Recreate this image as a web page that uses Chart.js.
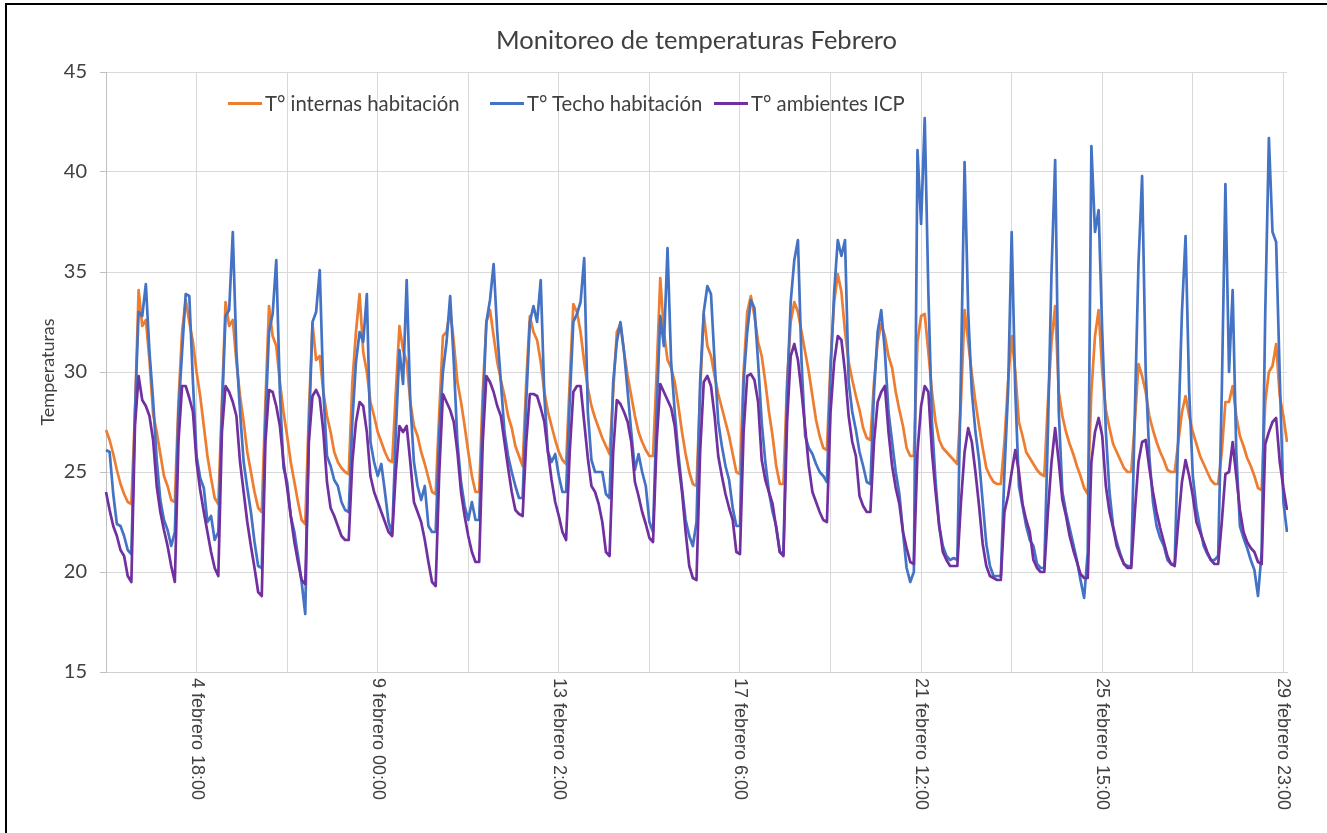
<!DOCTYPE html>
<html>
<head>
<meta charset="utf-8">
<script src="https://cdn.jsdelivr.net/npm/chart.js@4.4.1/dist/chart.umd.min.js"></script>
<style>
  html, body { margin: 0; padding: 0; background: #fff; }
  #wrap { position: relative; width: 1327px; height: 833px; }
  #frame { position: absolute; left: 5px; top: 3px; right: 0; bottom: 0; border-top: 2px solid #000; border-left: 2px solid #000; pointer-events: none; }
  .item { position: absolute; top: 91px; height: 24px; display: flex; align-items: center; white-space: nowrap; font: 20.3px Lato, sans-serif; color: #404040; }
  .item i { display: inline-block; width: 34px; height: 3px; margin-right: 3px; }
</style>
</head>
<body>
<div id="wrap">
  <canvas id="chartTemp" width="1327" height="833"></canvas>
  <div id="legend"></div>
  <div id="frame"></div>
</div>
<script>
// series names / colours (Excel palette)
const seriesNames = ['T° internas habitación', 'T° Techo habitación', 'T° ambientes ICP'];
const seriesColors = ['#ED7D31', '#4472C4', '#7030A0'];

// x labels shown on the axis and where they sit (point index)
const tickAt = [25, 75, 125, 175, 225, 275, 325];
const tickLabels = ['4 febrero 18:00', '9 febrero 00:00', '13 febrero 2:00', '17 febrero 6:00',
                    '21 febrero 12:00', '25 febrero 15:00', '29 febrero 23:00'];

// T° internas habitación (one row ~ one day)
const tempInterna = [
  27.1, 26.6, 25.9, 25.1, 24.4, 23.9, 23.5,
  23.4, 28.0, 34.1, 32.3, 32.6, 30.6, 27.9, 27.0, 25.9, 24.8, 24.3, 23.6,
  23.5, 28.5, 32.0, 33.6, 32.5, 31.5, 30.0, 28.8, 27.3, 25.8, 24.7, 23.7,
  23.4, 28.5, 33.5, 32.3, 32.6, 30.5, 28.8, 27.5, 26.0, 25.0, 24.0, 23.2,
  23.0, 28.5, 33.3, 31.8, 31.3, 29.5, 28.0, 26.8, 25.5, 24.5, 23.5, 22.6,
  22.4, 28.0, 32.4, 30.6, 30.8, 29.0, 27.8, 27.0, 26.0, 25.5, 25.2, 25.0,
  24.9, 29.5, 32.0, 33.9, 31.0, 30.0, 28.5, 27.8, 27.0, 26.5, 26.0, 25.6,
  25.5, 29.0, 32.3, 31.1, 30.5, 28.5, 27.3, 26.8, 26.0, 25.4, 24.7, 24.0,
  23.9, 28.0, 31.8, 32.0, 33.1, 31.5, 29.5, 28.5, 27.3, 26.0, 24.8, 24.0,
  24.0, 29.0, 32.5, 33.1, 31.8, 30.5, 29.6, 28.8, 27.8, 27.2, 26.3, 25.8,
  25.3, 29.5, 32.8, 32.0, 31.6, 30.5, 29.0, 28.0, 27.3, 26.6, 26.0, 25.6,
  25.4, 29.5, 33.4, 33.0, 32.0, 30.5, 29.2, 28.3, 27.7, 27.2, 26.7, 26.3,
  25.9, 29.0, 32.0, 32.4, 31.0, 29.8, 28.8, 27.8, 27.0, 26.5, 26.1, 25.8,
  25.8, 30.0, 34.7, 32.0, 30.6, 30.2, 29.5, 28.3, 27.0, 25.9, 25.0, 24.4,
  24.3, 29.0, 32.9, 31.3, 30.8, 29.8, 28.9, 28.2, 27.5, 26.8, 25.9, 25.0,
  24.9, 30.0, 33.0, 33.8, 32.8, 31.5, 30.8, 29.5, 28.0, 26.8, 25.3, 24.4,
  24.4, 29.5, 32.5, 33.5, 33.0, 32.0, 31.0, 30.0, 28.8, 27.6, 26.8, 26.2,
  26.1, 30.5, 33.5, 34.9, 34.0, 32.0, 30.5, 29.6, 28.8, 28.1, 27.2, 26.7,
  26.6, 29.5, 31.5, 32.4, 31.8, 30.8, 30.2, 29.0, 28.1, 27.3, 26.2, 25.8,
  25.8, 31.5, 32.8, 32.9, 31.0, 29.0, 27.5, 26.6, 26.2, 26.0, 25.8, 25.6,
  25.4, 28.5, 33.1, 31.5, 29.9, 28.5, 27.3, 26.2, 25.2, 24.8, 24.5, 24.4,
  24.4, 26.5, 29.5, 31.8, 30.0, 27.5, 26.8, 26.0, 25.7, 25.4, 25.1, 24.9,
  24.8, 28.5, 31.5, 33.3, 29.0, 27.8, 27.0, 26.4, 25.9, 25.3, 24.8, 24.2,
  23.9, 29.0, 31.8, 33.1, 30.0, 28.1, 27.2, 26.4, 26.0, 25.6, 25.2, 25.0,
  25.0, 27.5, 30.4, 29.8, 29.0, 27.8, 27.1, 26.5, 26.0, 25.6, 25.1, 25.0,
  25.0, 26.5, 28.0, 28.8, 27.8, 27.0, 26.4, 25.8, 25.4, 25.0, 24.6, 24.4,
  24.4, 26.0, 28.5, 28.5, 29.3, 27.8, 26.8, 26.3, 25.7, 25.3, 24.8, 24.2,
  24.1, 28.5, 30.0, 30.3, 31.4, 28.8, 27.8, 26.5
];

// T° Techo habitación
const tempTecho = [
  26.1, 26.0, 23.9, 22.4, 22.3, 21.8, 21.1,
  20.9, 28.0, 33.0, 32.8, 34.4, 31.0, 28.6, 25.6, 23.6, 22.6, 22.1, 21.3,
  22.0, 28.0, 31.0, 33.9, 33.8, 29.5, 25.8, 24.7, 24.2, 22.5, 22.8, 21.6,
  22.0, 28.0, 32.8, 33.1, 37.0, 31.0, 28.0, 25.5, 24.2, 23.0, 21.5, 20.3,
  20.2, 27.5, 32.0, 32.9, 35.6, 29.0, 25.2, 24.5, 22.8, 22.0, 20.8, 19.5,
  17.9, 27.0, 32.5, 33.0, 35.1, 29.0, 25.8, 25.3, 24.6, 24.3, 23.5, 23.1,
  23.0, 27.5, 30.5, 32.0, 31.5, 33.9, 26.5, 25.5, 24.8, 25.4, 24.0, 22.5,
  21.9, 27.0, 31.1, 29.4, 34.6, 28.5, 25.5, 24.3, 23.6, 24.3, 22.3, 22.0,
  22.0, 27.0, 30.0, 31.5, 33.8, 30.5, 26.5, 24.5, 23.3, 22.6, 23.5, 22.6,
  22.6, 28.0, 32.5, 33.6, 35.4, 32.0, 29.5, 27.0, 25.8, 25.0, 24.3, 23.7,
  23.7, 28.5, 32.5, 33.3, 32.5, 34.6, 28.8, 26.0, 25.5, 25.9, 24.8, 24.0,
  24.0, 28.5, 32.5, 32.9, 33.5, 35.7, 28.0, 25.6, 25.0, 25.0, 25.0, 23.9,
  23.7, 29.5, 31.5, 32.5, 31.0, 29.0, 27.0, 25.1, 25.9, 25.0, 24.3, 22.5,
  22.0, 28.0, 32.8, 31.3, 36.2, 30.5, 28.0, 25.9, 24.2, 22.6, 21.8, 21.3,
  22.5, 29.5, 33.0, 34.3, 33.9, 30.5, 27.5, 26.3, 25.3, 24.6, 23.2, 22.3,
  22.3, 29.5, 32.0, 33.6, 33.2, 30.5, 27.5, 25.5, 24.0, 23.0, 22.3, 21.0,
  20.9, 29.0, 33.5, 35.6, 36.6, 30.5, 26.8, 26.2, 25.9, 25.4, 25.0, 24.8,
  24.5, 30.0, 34.0, 36.6, 35.8, 36.6, 29.5, 28.0, 27.1, 26.0, 25.3, 24.5,
  24.4, 29.0, 32.0, 33.1, 31.0, 28.0, 26.5, 25.0, 23.9, 22.0, 20.2, 19.5,
  20.0, 41.1, 37.4, 42.7, 34.0, 27.5, 24.5, 22.3, 21.3, 20.8, 20.6, 20.7,
  20.6, 30.0, 40.5, 33.0, 29.0, 27.0, 25.6, 23.5, 21.4, 20.3, 19.8, 19.8,
  19.8, 25.0, 29.0, 37.0, 29.0, 24.3, 23.3, 22.3, 21.6, 21.3, 20.4, 20.2,
  20.2, 27.0, 35.0, 40.6, 28.0, 24.0, 23.0, 22.2, 21.4, 20.6, 19.6, 18.7,
  21.0, 41.3, 37.0, 38.1, 32.0, 27.0, 24.0, 22.3, 21.5, 20.9, 20.4, 20.3,
  20.3, 28.0, 35.4, 39.8, 30.0, 25.8, 23.5, 22.3, 21.7, 21.3, 20.6, 20.4,
  20.4, 27.0, 33.0, 36.8, 29.0, 24.8, 23.2, 22.2, 21.3, 20.9, 20.6, 20.6,
  20.8, 29.0, 39.4, 30.0, 34.1, 26.0, 22.3, 21.7, 21.2, 20.6, 20.1, 18.8,
  21.0, 33.0, 41.7, 37.0, 36.5, 29.8, 23.5, 22.0
];

// T° ambientes ICP
const tempAmbiente = [
  24.0, 23.1, 22.3, 21.8, 21.1, 20.8, 19.8,
  19.5, 27.3, 29.8, 28.6, 28.3, 27.8, 26.6, 24.3, 23.0, 22.1, 21.3, 20.3,
  19.5, 26.5, 29.3, 29.3, 28.7, 28.0, 25.5, 24.1, 23.0, 22.0, 21.0, 20.2,
  19.8, 27.0, 29.3, 29.0, 28.5, 27.8, 25.5, 24.0, 22.5, 21.3, 20.2, 19.0,
  18.8, 26.5, 29.1, 29.0, 28.3, 27.3, 25.5, 24.2, 22.8, 21.5, 20.5, 19.6,
  19.4, 26.5, 28.8, 29.1, 28.7, 27.0, 24.5, 23.2, 22.8, 22.3, 21.8, 21.6,
  21.6, 25.5, 27.5, 28.5, 28.3, 27.0, 24.8, 24.0, 23.5, 23.0, 22.5, 22.0,
  21.8, 25.0, 27.3, 27.0, 27.3, 25.5, 23.5, 23.0, 22.5, 21.6, 20.5, 19.5,
  19.3, 25.0, 28.9, 28.5, 28.1, 27.5, 26.0, 24.0, 22.8, 21.8, 21.0, 20.5,
  20.5, 26.5, 29.8, 29.5, 29.0, 28.3, 27.8, 26.5, 25.2, 24.0, 23.1, 22.9,
  22.8, 26.5, 28.9, 28.9, 28.8, 28.2, 27.5, 26.0, 24.6, 23.5, 22.8, 22.0,
  21.6, 26.0, 29.0, 29.3, 29.3, 27.5, 25.7, 24.3, 24.0, 23.4, 22.5, 21.0,
  20.8, 26.0, 28.6, 28.4, 28.0, 27.5, 26.5, 24.5, 23.8, 23.0, 22.4, 21.7,
  21.5, 26.5, 29.4, 29.0, 28.6, 28.2, 27.3, 25.5, 24.0, 22.0, 20.3, 19.7,
  19.6, 26.0, 29.5, 29.8, 29.3, 27.8, 25.8, 24.8, 23.9, 23.2, 22.6, 21.0,
  20.9, 27.0, 29.8, 29.9, 29.6, 28.5, 25.6, 24.6, 24.0, 23.4, 22.2, 21.0,
  20.8, 27.5, 30.8, 31.4, 30.6, 29.0, 27.2, 25.3, 24.0, 23.5, 23.0, 22.6,
  22.5, 28.0, 30.5, 31.8, 31.6, 30.0, 27.8, 26.5, 25.8, 23.8, 23.3, 23.0,
  23.0, 26.5, 28.5, 29.0, 29.3, 27.0, 25.3, 24.2, 23.4, 22.0, 21.2, 20.5,
  20.4, 26.0, 28.3, 29.3, 29.0, 26.0, 24.0, 22.3, 21.0, 20.6, 20.3, 20.3,
  20.3, 23.5, 26.0, 27.2, 26.5, 25.0, 23.3, 21.4, 20.3, 19.8, 19.7, 19.6,
  19.6, 23.0, 23.8, 25.0, 26.1, 25.0, 23.4, 22.6, 22.0, 20.6, 20.2, 20.0,
  20.0, 23.0, 25.5, 27.2, 25.5, 23.6, 22.8, 21.8, 21.1, 20.5, 19.9, 19.7,
  19.7, 25.5, 27.0, 27.7, 26.8, 24.3, 23.0, 22.2, 21.3, 20.8, 20.4, 20.2,
  20.2, 23.0, 25.5, 26.5, 26.6, 25.2, 24.0, 23.0, 22.2, 21.5, 20.8, 20.4,
  20.3, 22.5, 24.5, 25.6, 24.8, 23.8, 22.5, 22.0, 21.5, 21.0, 20.6, 20.4,
  20.4, 22.5, 24.9, 25.0, 26.5, 24.8, 23.1, 22.0, 21.5, 21.2, 21.0, 20.5,
  20.4, 26.4, 27.0, 27.5, 27.7, 25.5, 24.2, 23.1
];

// one category per reading, only a few carry a visible label
const labels = tempInterna.map((v, i) => {
  const k = tickAt.indexOf(i);
  return k < 0 ? '' : tickLabels[k];
});

// legend drawn as html so it can sit inside the plot like the excel one
const legendLeft = [228, 490, 714];
const legend = document.getElementById('legend');
seriesNames.forEach((name, k) => {
  const item = document.createElement('div');
  item.className = 'item';
  item.style.left = legendLeft[k] + 'px';
  item.innerHTML = '<i style="background:' + seriesColors[k] + '"></i>' + name;
  legend.appendChild(item);
});

// x labels turned 90deg clockwise (chart.js only rotates the other way)
const verticalLabels = {
  id: 'verticalLabels',
  afterDraw(chart) {
    const { ctx, chartArea, scales: { x } } = chart;
    ctx.save();
    ctx.font = '18px "Liberation Sans", Arial, sans-serif';
    ctx.fillStyle = '#404040';
    ctx.textAlign = 'left';
    ctx.textBaseline = 'middle';
    tickAt.forEach((idx, k) => {
      ctx.save();
      ctx.translate(x.getPixelForValue(idx), chartArea.bottom + 6);
      ctx.rotate(Math.PI / 2);
      ctx.fillText(tickLabels[k], 0, 0);
      ctx.restore();
    });
    ctx.restore();
  }
};

const series = [tempInterna, tempTecho, tempAmbiente];

const ctx1 = document.getElementById('chartTemp').getContext('2d');
const chartTemp = new Chart(ctx1, {
  type: 'line',
  data: {
    labels: labels,
    datasets: series.map((data, k) => ({
      label: seriesNames[k],
      data: data,
      borderColor: seriesColors[k],
      backgroundColor: seriesColors[k],
      borderWidth: 2.7,
      borderJoinStyle: 'round',
      pointRadius: 0,
      tension: 0,
      order: 2 - k // purple on top, like excel
    }))
  },
  options: {
    responsive: false,
    animation: false,
    layout: { padding: { left: 0, right: 40, top: 0, bottom: 0 } },
    plugins: {
      legend: { display: false },
      tooltip: { enabled: false },
      title: {
        display: true,
        text: 'Monitoreo de temperaturas Febrero',
        fullSize: false,
        color: '#404040',
        font: { family: 'Lato', size: 25.5, weight: 'normal' },
        padding: { top: 25, bottom: 16.4 }
      }
    },
    scales: {
      x: {
        ticks: { display: false },
        grid: {
          color: c => (c.index % 25 === 0 ? '#d9d9d9' : 'rgba(0,0,0,0)'),
          drawTicks: false
        },
        border: { color: '#d0d0d0' },
        afterFit: s => { s.height = 161; }
      },
      y: {
        min: 15,
        max: 45,
        ticks: { stepSize: 5, color: '#404040', padding: 13, font: { family: 'Lato', size: 20 } },
        grid: { color: '#d9d9d9', tickLength: 6, tickColor: '#bfbfbf' },
        border: { color: '#bfbfbf' },
        title: {
          display: true,
          text: 'Temperaturas',
          color: '#404040',
          font: { family: 'Lato', size: 18 },
          padding: { top: 37, bottom: 0 }
        },
        afterFit: s => { s.width = 106; }
      }
    }
  },
  plugins: [verticalLabels]
});
</script>
</body>
</html>
